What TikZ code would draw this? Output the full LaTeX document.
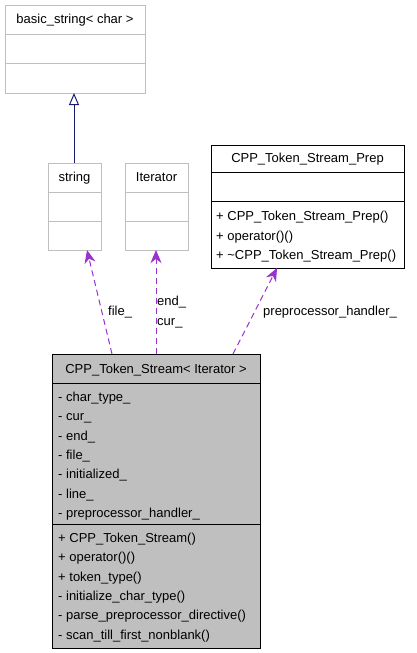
\documentclass[tikz,border=0pt]{standalone}
\usepackage{fontspec}
\setmainfont{Liberation Sans}
\usetikzlibrary{arrows.meta}
\definecolor{boxgray}{HTML}{BFBFBF}
\definecolor{depcol}{HTML}{9A32CD}
\definecolor{inhcol}{HTML}{191970}
\begin{document}
\begin{tikzpicture}[x=1pt,y=-1pt,
  txt/.style={inner sep=0pt, font=\fontsize{13}{15}\selectfont},
  ttl/.style={txt, anchor=base},
  itm/.style={txt, anchor=base west},
  lbox/.style={draw=boxgray, line width=1pt, fill=white, anchor=north west, inner sep=0pt},
  bbox/.style={draw=black, line width=1pt, fill=white, anchor=north west, inner sep=0pt},
  mbox/.style={draw=black, line width=1pt, fill=boxgray, anchor=north west, inner sep=0pt},
  ldiv/.style={draw=boxgray, line width=1pt},
  bdiv/.style={draw=black, line width=1pt},
  deparrow/.style={draw=depcol, line width=1pt, dash pattern=on 6pt off 4pt,
     -{Stealth[length=13pt,width=11pt,inset=4pt]}},
  inharrow/.style={draw=inhcol, line width=1pt,
     -{Triangle[open,length=12pt,width=10pt,fill=white]}}
]
\useasboundingbox (0,0) rectangle (416,653);

% basic_string< char >
\node[lbox, minimum width=140pt, minimum height=88pt] (bs) at (5,5) {};
\draw[ldiv] (5,34) -- (145,34);
\draw[ldiv] (5,63) -- (145,63);
\node[ttl] (bsT) at (75,23.5) {basic\_string< char >};

% string
\node[lbox, minimum width=53pt, minimum height=87pt] (str) at (48,163) {};
\draw[ldiv] (48,192) -- (101,192);
\draw[ldiv] (48,221) -- (101,221);
\node[ttl] (strT) at (74.5,181) {string};

% Iterator
\node[lbox, minimum width=63pt, minimum height=87pt] (it) at (125,163) {};
\draw[ldiv] (125,192) -- (188,192);
\draw[ldiv] (125,221) -- (188,221);
\node[ttl] (itT) at (156.5,181) {Iterator};

% CPP_Token_Stream_Prep
\node[bbox, minimum width=193pt, minimum height=123pt] (prep) at (211,145) {};
\draw[bdiv] (211,172) -- (404,172);
\draw[bdiv] (211,201) -- (404,201);
\node[ttl] (prepT) at (307.5,162.5) {CPP\_Token\_Stream\_Prep};
\node[itm] (p1) at (216,220.5) {+ CPP\_Token\_Stream\_Prep()};
\node[itm] (p2) at (216,240) {+ operator()()};
\node[itm] (p3) at (216,259.5) {+ \textasciitilde CPP\_Token\_Stream\_Prep()};

% CPP_Token_Stream< Iterator >
\node[mbox, minimum width=208pt, minimum height=294pt] (main) at (52,354) {};
\draw[bdiv] (52,383) -- (260,383);
\draw[bdiv] (52,524) -- (260,524);
\node[ttl] (mainT) at (156,373) {CPP\_Token\_Stream< Iterator >};
\node[itm] (a1) at (58,401.5) {- char\_type\_};
\node[itm] (a2) at (58,420.8) {- cur\_};
\node[itm] (a3) at (58,440.1) {- end\_};
\node[itm] (a4) at (58,459.4) {- file\_};
\node[itm] (a5) at (58,478.7) {- initialized\_};
\node[itm] (a6) at (58,498.0) {- line\_};
\node[itm] (a7) at (58,517.3) {- preprocessor\_handler\_};
\node[itm] (m1) at (58,542.5) {+ CPP\_Token\_Stream()};
\node[itm] (m2) at (58,561.8) {+ operator()()};
\node[itm] (m3) at (58,581.1) {+ token\_type()};
\node[itm] (m4) at (58,600.4) {- initialize\_char\_type()};
\node[itm] (m5) at (58,619.7) {- parse\_preprocessor\_directive()};
\node[itm] (m6) at (58,639.0) {- scan\_till\_first\_nonblank()};

% connectors
\coordinate (inhS) at (74,163);
\coordinate (inhE) at (74,93);
\draw[inharrow] (inhS) -- (inhE);

\coordinate (fileS) at (112,354);
\coordinate (fileE) at (87,250);
\draw[deparrow] (fileS) -- (fileE);
\node[itm] (fileL) at (108,315.5) {file\_};

\coordinate (itS) at (156,354);
\coordinate (itE) at (156,250);
\draw[deparrow] (itS) -- (itE);
\node[itm] (endL) at (157,305.5) {end\_};
\node[itm] (curL) at (157,325.5) {cur\_};

\coordinate (prS) at (233,354);
\coordinate (prE) at (277,268);
\draw[deparrow] (prS) -- (prE);
\node[itm] (prL) at (263,315.5) {preprocessor\_handler\_};
\end{tikzpicture}
\end{document}
